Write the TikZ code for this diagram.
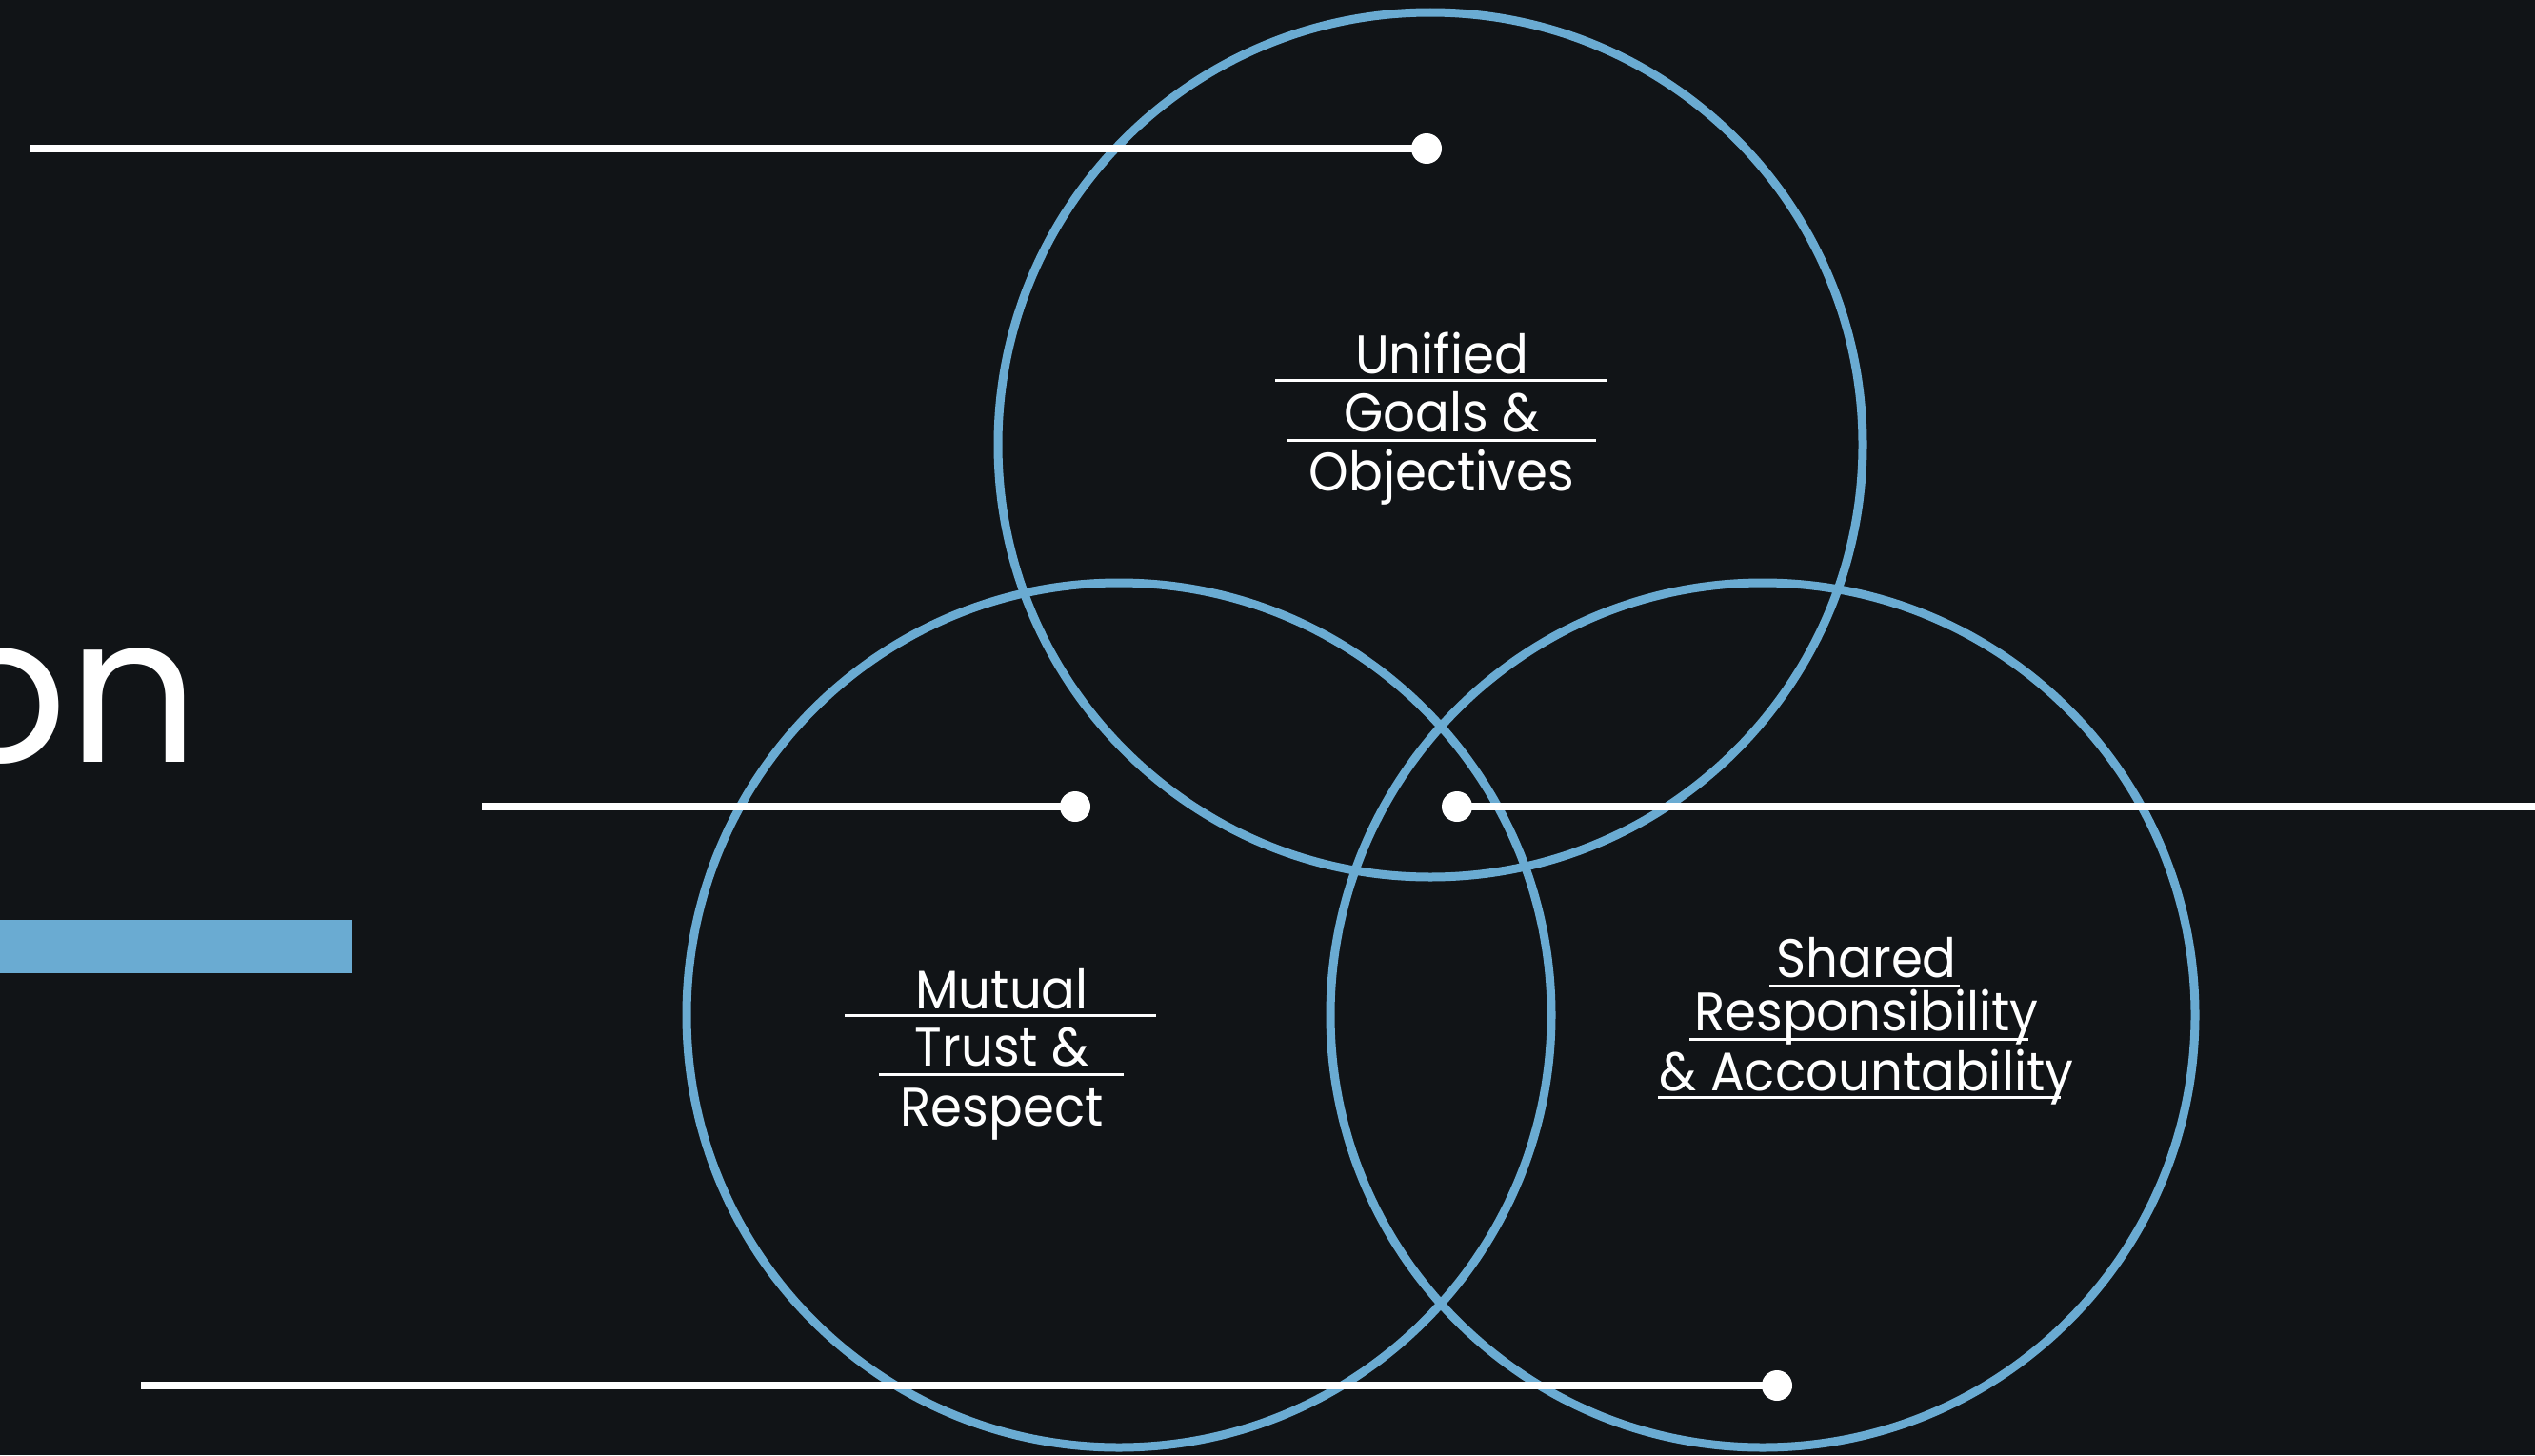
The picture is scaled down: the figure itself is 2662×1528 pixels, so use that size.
\documentclass[tikz,border=0pt]{standalone}
\usepackage{fontspec}
\setmainfont{Poppins}
\definecolor{bg}{HTML}{111417}
\definecolor{ringc}{HTML}{6AABD2}
\newcommand{\narrowtxt}[1]{\scalebox{0.93}[1]{#1}}
\begin{document}
\begin{tikzpicture}[x=1pt,y=-1pt,
  ring/.style={circle, draw=ringc, line width=9pt, minimum size=908pt, inner sep=0pt},
  lead/.style={draw=white, line width=8pt},
  dot/.style={circle, fill=white, minimum size=32pt, inner sep=0pt},
  lbl/.style={text=white, font=\fontsize{57}{62}\selectfont, inner sep=0pt, anchor=base},
  uline/.style={draw=white, line width=3pt}]
\useasboundingbox (0,0) rectangle (2662,1528);
\clip (0,0) rectangle (2662,1528);
\fill[bg] (0,0) rectangle (2662,1528);

% title fragment and accent bar
\node[text=white, font=\fontsize{215}{215}\selectfont, inner sep=0pt, anchor=base east] (title) at (209,800) {on};
\fill[ringc] (0,966) rectangle (370,1022);

% circles
\node[ring] (top) at (1502,467) {};
\node[ring] (left) at (1175,1066) {};
\node[ring] (right) at (1851,1066) {};

% leader lines
\node[dot] (d1) at (1498,156) {};
\coordinate (s1) at (31,156);
\draw[lead] (s1) -- (d1.center);
\node[dot] (d2) at (1129,847) {};
\coordinate (s2) at (506,847);
\draw[lead] (s2) -- (d2.center);
\node[dot] (d3) at (1530,847) {};
\coordinate (s3) at (2670,847);
\draw[lead] (d3.center) -- (s3);
\node[dot] (d4) at (1866,1455) {};
\coordinate (s4) at (148,1455);
\draw[lead] (s4) -- (d4.center);

% labels
\node[lbl] (u1) at (1514,392) {\narrowtxt{Unified}};
\node[lbl] (u2) at (1514,453) {\narrowtxt{Goals \&}};
\node[lbl] (u3) at (1514,515) {\narrowtxt{Objectives}};
\draw[uline] (1339,399) -- (1688,399);
\draw[uline] (1351,462) -- (1676,462);

\node[lbl] (m1) at (1052,1059) {\narrowtxt{Mutual}};
\node[lbl] (m2) at (1052,1119) {\narrowtxt{Trust \&}};
\node[lbl] (m3) at (1052,1182) {\narrowtxt{Respect}};
\draw[uline] (887,1066) -- (1214,1066);
\draw[uline] (923,1128) -- (1180,1128);

\node[lbl] (r1) at (1960,1026) {\narrowtxt{Shared}};
\node[lbl] (r2) at (1960,1082) {\narrowtxt{Responsibility}};
\node[lbl] (r3) at (1960,1145) {\narrowtxt{\& Accountability}};
\draw[uline] (1858,1035) -- (2058,1035);
\draw[uline] (1774,1091) -- (2130,1091);
\draw[uline] (1741,1152) -- (2164,1152);
\end{tikzpicture}
\end{document}
